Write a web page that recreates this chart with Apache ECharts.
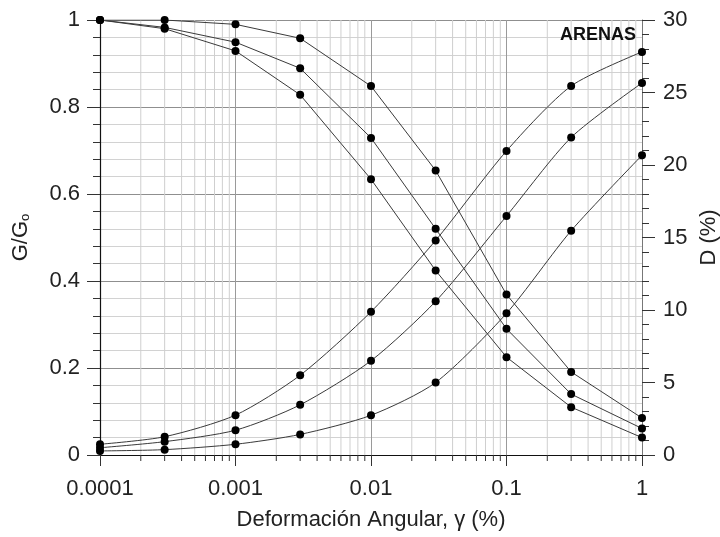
<!DOCTYPE html>
<html>
<head>
<meta charset="utf-8">
<script src="https://cdn.jsdelivr.net/npm/echarts@6/dist/echarts.min.js"></script>
<style>
  html, body { margin: 0; padding: 0; background: #fff; }
  #chart { width: 720px; height: 537px; }
</style>
</head>
<body>
<div id="chart"></div>
<script>
// deformación angular (%)
const strain = [0.0001, 0.0003, 0.001, 0.003, 0.01, 0.03, 0.1, 0.3, 1];

// G/Go, tres curvas
const gUpper = [1.0, 1.0, 0.990, 0.958, 0.848, 0.654, 0.369, 0.191, 0.085];
const gMiddle = [1.0, 0.983, 0.949, 0.889, 0.729, 0.520, 0.290, 0.140, 0.061];
const gLower = [1.0, 0.980, 0.929, 0.828, 0.634, 0.424, 0.225, 0.110, 0.040];

// D (%), tres curvas
const dUpper = [0.74, 1.26, 2.75, 5.5, 9.88, 14.8, 20.97, 25.45, 27.8];
const dMiddle = [0.5, 0.92, 1.71, 3.46, 6.5, 10.6, 16.48, 21.9, 25.66];
const dLower = [0.28, 0.37, 0.74, 1.42, 2.74, 5.0, 9.77, 15.47, 20.67];

// lineas menores del eje logaritmico (2..9 por decada)
const minorStrain = [];
[0.0001, 0.001, 0.01, 0.1].forEach((d) => {
  for (let k = 2; k <= 9; k++) minorStrain.push(+(d * k).toPrecision(3));
});

const font = '"Liberation Sans", Arial, sans-serif';
const labelColor = '#222';

const pairs = (ys) => strain.map((x, i) => [x, ys[i]]);

const lineBase = {
  type: 'line',
  symbol: 'circle',
  symbolSize: 8,
  itemStyle: { color: '#000' },
  lineStyle: { color: '#3a3a3a', width: 1 },
  z: 3,
  silent: true,
  animation: false,
};

const chart = echarts.init(document.getElementById('chart'), null, { renderer: 'canvas' });

chart.setOption({
  backgroundColor: '#fff',
  animation: false,
  grid: { left: 100, right: 78, top: 20, bottom: 82, containLabel: false, outerBoundsMode: 'none' },
  graphic: [{
    type: 'text',
    right: 84,
    top: 26,
    style: { text: 'ARENAS', font: 'bold 18px ' + font, fill: '#111' },
    z: 10,
  }],
  xAxis: {
    type: 'log',
    logBase: 10,
    min: 0.0001,
    max: 1,
    name: 'Deformación Angular, γ (%)',
    nameLocation: 'middle',
    nameGap: 54,
    nameTextStyle: { fontFamily: font, fontSize: 22, color: labelColor },
    axisLine: { lineStyle: { color: '#111', width: 1.2 } },
    axisTick: { length: 11, lineStyle: { color: '#333' } },
    axisLabel: {
      margin: 23,
      fontFamily: font,
      fontSize: 22,
      color: labelColor,
      formatter: (v) => {
        const e = Math.round(Math.log10(v));
        return e >= 0 ? String(Math.pow(10, e)) : Math.pow(10, e).toFixed(-e);
      },
    },
    splitLine: { show: true, lineStyle: { color: '#9a9a9a', width: 1 } },
  },
  yAxis: [{
    type: 'value',
    min: 0,
    max: 1,
    interval: 0.2,
    name: '{a|G/G}{b|o}',
    nameLocation: 'middle',
    nameRotate: 90,
    nameGap: 68,
    nameTextStyle: {
      rich: {
        a: { fontFamily: font, fontSize: 22, color: labelColor },
        b: { fontFamily: font, fontSize: 13, color: labelColor, padding: [10, 0, 0, 0] },
      },
    },
    axisLine: { show: true, lineStyle: { color: '#111', width: 1.2 } },
    axisTick: { show: true, inside: false, length: 13, lineStyle: { color: '#333' } },
    minorTick: { show: true, splitNumber: 5, length: 7, lineStyle: { color: '#333' } },
    axisLabel: { margin: 20, fontFamily: font, fontSize: 22, color: labelColor },
    splitLine: { show: true, lineStyle: { color: '#8f8f8f', width: 1 } },
    minorSplitLine: { show: true, lineStyle: { color: '#d2d2d2', width: 1 } },
  }, {
    type: 'value',
    min: 0,
    max: 30,
    interval: 5,
    position: 'right',
    name: 'D (%)',
    nameLocation: 'middle',
    nameRotate: 90,
    nameGap: 54,
    nameTextStyle: { fontFamily: font, fontSize: 22, color: labelColor },
    axisLine: { show: true, lineStyle: { color: '#777', width: 1 } },
    axisTick: { show: true, length: 13, lineStyle: { color: '#333' } },
    minorTick: { show: true, splitNumber: 5, length: 7, lineStyle: { color: '#333' } },
    axisLabel: { margin: 21, fontFamily: font, fontSize: 22, color: labelColor },
    splitLine: { show: false },
  }],
  series: [
    {
      // rejilla menor vertical + marcas menores del eje x
      type: 'custom',
      silent: true,
      z: 1,
      clip: false,
      data: minorStrain.map((v) => [v]),
      encode: { x: 0 },
      renderItem: (params, api) => {
        const x = api.coord([api.value(0), 0])[0];
        const cs = params.coordSys;
        const bottom = cs.y + cs.height;
        return {
          type: 'group',
          children: [{
            type: 'line',
            shape: { x1: x, y1: cs.y, x2: x, y2: bottom },
            style: { stroke: '#cfcfcf', lineWidth: 1 },
          }, {
            type: 'line',
            shape: { x1: x, y1: bottom, x2: x, y2: bottom + 6 },
            style: { stroke: '#333', lineWidth: 1 },
          }],
        };
      },
    },
    { ...lineBase, name: 'G1', yAxisIndex: 0, data: pairs(gUpper) },
    { ...lineBase, name: 'G2', yAxisIndex: 0, data: pairs(gMiddle) },
    { ...lineBase, name: 'G3', yAxisIndex: 0, data: pairs(gLower) },
    { ...lineBase, name: 'D1', yAxisIndex: 1, smooth: 0.25, data: pairs(dUpper) },
    { ...lineBase, name: 'D2', yAxisIndex: 1, smooth: 0.25, data: pairs(dMiddle) },
    { ...lineBase, name: 'D3', yAxisIndex: 1, smooth: 0.25, data: pairs(dLower) },
  ],
});
</script>
</body>
</html>
